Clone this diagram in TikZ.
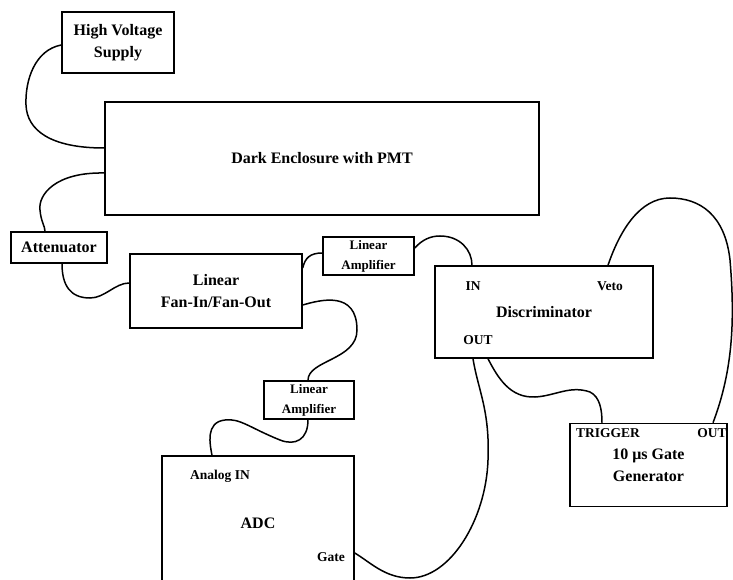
\documentclass[tikz,border=0pt]{standalone}
\usepackage{fontspec}
\setmainfont{Liberation Serif}
\usetikzlibrary{calc}

\begin{document}
\begin{tikzpicture}[x=1pt, y=-1pt,
  unit/.style={draw, line width=1.5pt, inner sep=0pt, align=center,
    font=\bfseries\fontsize{16}{22}\selectfont},
  smallunit/.style={unit, font=\bfseries\fontsize{13}{20}\selectfont},
  port/.style={inner sep=0pt, font=\bfseries\fontsize{13.5}{15}\selectfont},
  cable/.style={line width=1.5pt}]
% Page frame (the ADC runs off the bottom edge)
\clip (0,0) rectangle (733,580);
% Modules
\node[unit, minimum width=112, minimum height=61] (hv) at (118,42.5) {High Voltage\\Supply};
\node[unit, minimum width=434, minimum height=113] (pmt) at (322,158.5) {Dark Enclosure with PMT};
\node[unit, minimum width=96, minimum height=31] (att) at (59,247.5) {Attenuator};
\node[unit, minimum width=172, minimum height=74] (fan) at (216,291) {Linear\\Fan-In/Fan-Out};
\node[smallunit, minimum width=91, minimum height=38] (amp1) at (368.5,256) {Linear\\Amplifier};
\node[unit, minimum width=218, minimum height=92] (disc) at (544,312) {Discriminator};
\node[smallunit, minimum width=90, minimum height=38] (amp2) at (309,400) {Linear\\Amplifier};
\node[unit, minimum width=192, minimum height=134] (adc) at (258,523) {ADC};
\node[unit, minimum width=157, minimum height=83] (gate) at (648.5,465) {10 μs Gate\\Generator};
% Port labels
\node[port] (discin) at (473,286) {IN};
\node[port] (discveto) at (610,286) {Veto};
\node[port] (discout) at (478,340) {OUT};
\node[port] (adcin) at (220,476) {Analog IN};
\node[port] (adcgate) at (331,557) {Gate};
\node[port] (gatetrig) at (608,433) {TRIGGER};
\node[port] (gateout) at (712,433) {OUT};
% Cables
\draw[cable] ([yshift=-2.5pt]hv.west) .. controls (35,50) and (25,80) .. (26,105)
  .. controls (27,130) and (50,148) .. ([yshift=10.5pt]pmt.west);
\draw[cable] ([yshift=-14.5pt]pmt.west) .. controls (55,172) and (38,195) .. (40,210)
  .. controls (41,222) and (45,226) .. ([xshift=-14pt]att.north);
\draw[cable] ([xshift=3pt]att.south) .. controls (62,285) and (70,298) .. (90,298)
  .. controls (105,298) and (115,283) .. ([yshift=8pt]fan.west);
\draw[cable] ([yshift=23pt]fan.east) .. controls (305,258) and (310,253) .. ([yshift=3pt]amp1.west);
\draw[cable] ([yshift=8pt]amp1.east) .. controls (422,240) and (430,236) .. (440,236)
  .. controls (460,236) and (472,250) .. ([xshift=-72pt]disc.north);
\draw[cable] ([yshift=-14pt]fan.east) .. controls (320,300) and (357,290) .. (357,330)
  .. controls (357,360) and (308,360) .. ([xshift=-1pt]amp2.north);
\draw[cable] ([xshift=-1pt]amp2.south) .. controls (308,440) and (295,446) .. (280,440)
  .. controls (250,428) and (240,418) .. (225,420)
  .. controls (205,422) and (210,445) .. ([xshift=-46pt]adc.north);
\draw[cable] ([xshift=-71pt]disc.south) .. controls (478,390) and (490,410) .. (488,460)
  .. controls (486,520) and (450,578) .. (410,578)
  .. controls (385,578) and (370,562) .. ([yshift=-30pt]adc.east);
\draw[cable] ([xshift=-56pt]disc.south) .. controls (498,378) and (510,398) .. (535,397)
  .. controls (555,396) and (570,385) .. (590,392)
  .. controls (600,397) and (602,410) .. ([xshift=-46.5pt]gate.north);
\draw[cable] ([xshift=64pt]disc.north) .. controls (620,230) and (640,198) .. (670,198)
  .. controls (700,198) and (725,215) .. (730,260)
  .. controls (735,320) and (733,370) .. ([xshift=64.5pt]gate.north);
\end{tikzpicture}
\end{document}
